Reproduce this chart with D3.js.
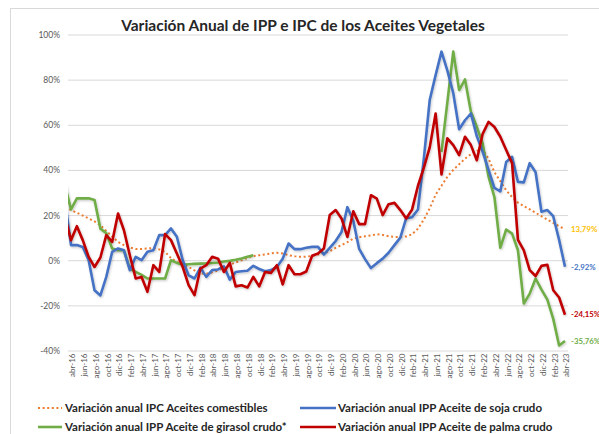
<!DOCTYPE html>
<html>
<head>
<meta charset="utf-8">
<script src="https://cdn.jsdelivr.net/npm/d3@7"></script>
<style>
body { margin: 0; background: #fff; }
svg { display: block; }
.grid line { stroke: #d9d9d9; stroke-width: 1; }
.ylab text { font-family: "Lato", "Liberation Sans", sans-serif; font-size: 8.5px; fill: #595959; }
.xlab text { font-family: "Lato", "Liberation Sans", sans-serif; font-size: 8px; fill: #595959; }
.txtTitle { font-family: "Lato", sans-serif; font-weight: bold; font-size: 15.5px; fill: #262626; }
.txtLegend { font-family: "Lato", sans-serif; font-weight: bold; font-size: 11.5px; fill: #262626; }
.txtEnd { font-family: "Lato", sans-serif; font-weight: bold; font-size: 7.8px; }
</style>
</head>
<body>
<div id="chart"></div>
<script>
// categorias: mar-16 .. abr-23 (mar-16 queda casi oculto en el borde del grafico)
var mesesAbr = ["ene","feb","mar","abr","may","jun","jul","ago","sep","oct","nov","dic"];
var meses = [];
for (var a = 16; a <= 23; a++) {
    for (var m = 0; m < 12; m++) {
        if (a == 16 && m < 2) continue;
        if (a == 23 && m > 3) continue;
        meses.push(mesesAbr[m] + "-" + a);
    }
}

// etiquetas del eje x (cada 2 meses desde abr-16)
var etiquetasX = meses.filter(function(d, i) { return i % 2 == 1; });
var ticksY = [-40, -20, 0, 20, 40, 60, 80, 100];

// Variacion anual IPC Aceites comestibles
var ipc = [23.5,
 22.2, 21, 19.8, 18.5, 17.2, 15.5, 13, 10.5, 8.1, 6.7, 5.7, 5, 5, 5.2, 5.4, 4.8, 3.7, 0.9, -0.7, -2,
 -3, -4.5, -5.9, -6, -5.4, -4.5, -3.3, -2, -1, 0, 1, 1.8, 2.2, 2.6, 3, 3.3, 3, 2.2, 1.8, 1.5,
 1.6, 1.9, 2.5, 3, 4, 5.5, 6.7, 8, 9.5, 10.2, 10.6, 11, 11.5, 11.2, 10.6, 10.3, 10.3, 10.5, 11.5, 14,
 18, 23, 29, 33, 37, 40, 42.5, 45, 47, 48.5, 49, 45, 39, 35, 31, 28, 25.5, 24, 22.5, 21,
 19.5, 18, 16.5, 15, 13.79];

// Variacion anual IPP Aceite de soja crudo
var soja = [26,
 6.7, 6.7, 5.9, 0, -13.3, -15.6, -7.4, 3.7, 5.2, 4.4, -4.4, 1.5, 0, 3.7, 4.4, 11.1, 11.1, 14.1, 10.4, 0,
 -6.7, -8.1, -3.3, -7.4, -4.4, -4.1, -2.7, -8.6, -5.2, -4.9, -4.7, -2.5, -3.9, -4.9, -4.4, -3, 0.7, 7.4, 4.9, 4.9,
 5.5, 5.9, 5.9, 2.5, 5.5, 8.5, 12.5, 23.5, 17.5, 5, 0.5, -3.5, -1.3, 0.7, 3.3, 6.7, 10, 18.6, 19, 22.5,
 45, 71, 82, 92.4, 84, 74, 58, 62, 65, 55, 48, 40, 32, 30.5, 43.5, 45.8, 34.7, 34.5, 43, 39,
 21.5, 22.2, 19.5, 9, -2.92];

// Variacion anual IPP Aceite de girasol crudo*
var girasol = [33,
 22.5, 27.4, 27.4, 27.4, 26.7, 14, 12, 5.2, 4.4, 4.4, -3.7, -5.2, -6.5, -8.1, -8.1, -8.1, -8.1, 0, -1.2, -2,
 -1.8, -1.6, -1.5, -1.4, -1.2, -1, -0.6, -0.3, 0.2, 0.8, 1.5, 2.2, null, null, null, null, null, null, null, null,
 null, null, null, null, null, null, null, null, null, null, null, null, null, null, null, null, null, null, null, null,
 null, null, null, 48, 70, 92.4, 75.4, 80.1, 65.8, 59.1, 51.7, 37, 28, 5.5, 13.6, 11.8, 4.4, -19.2, -14.8, -8.1,
 -13, -17.5, -26, -37.8, -35.76];

// Variacion anual IPP Aceite de palma crudo
var palma = [19,
 8.9, 15.1, 8.9, 1.5, -3, 1.2, 11.1, 8.1, 20.7, 13.3, 2.2, -8.1, -7.4, -14, -2.2, -5.2, 11.6, 8.9, 3, -3,
 -11, -15.5, -3.7, -2.2, 1.5, 0.7, -5.2, -1.2, -11.6, -11.1, -12.1, -7.4, -11.6, -5.2, -5.6, -2.2, -10.7, -2.2, -6.2, -6.2,
 -5, 2, 3, 5.2, 20, 22.2, 18.5, 10.3, 21.7, 16, 16, 28.8, 27.3, 20, 24.8, 25.4, 22.2, 18.5, 22.5, 33,
 41, 50, 65, 38, 54, 51, 46.6, 54.7, 51, 44.3, 56, 61.3, 59, 54.7, 48.8, 43, 9, 4.4, -4.4, -7,
 -2.5, -2, -13.3, -16.5, -24.15];

var series = [
    {nombre: "Variación anual IPC Aceites comestibles", valores: ipc, color: "#ED7D31", colorTxt: "#FFC000", fin: "13,79%", punteado: true},
    {nombre: "Variación anual IPP Aceite de soja crudo", valores: soja, color: "#4472C4", colorTxt: "#4472C4", fin: "-2,92%"},
    {nombre: "Variación anual IPP Aceite de girasol crudo*", valores: girasol, color: "#70AD47", colorTxt: "#70AD47", fin: "-35,76%"},
    {nombre: "Variación anual IPP Aceite de palma crudo", valores: palma, color: "#C00000", colorTxt: "#C00000", fin: "-24,15%"}
];

var width = 599;
var height = 434;
var plotL = 68, plotR = 568, plotT = 34.5, plotB = 350.5;

var svg = d3.select("#chart")
.append("svg")
.attr("width", width)
.attr("height", height);

var defs = svg.append("defs");
defs.append("clipPath")
.attr("id", "clip-plot")
.append("rect")
.attr("x", plotL)
.attr("y", 0)
.attr("width", plotR - plotL)
.attr("height", height);

var sombra = defs.append("filter")
.attr("id", "sombra")
.attr("x", "-5%").attr("y", "-5%")
.attr("width", "110%").attr("height", "110%");
sombra.append("feDropShadow")
.attr("dx", 0.8)
.attr("dy", 1.2)
.attr("stdDeviation", 0.9)
.attr("flood-color", "#000")
.attr("flood-opacity", 0.22);

// marco
svg.append("rect")
.attr("x", 10.5)
.attr("y", 8.5)
.attr("width", 590)
.attr("height", 440)
.attr("fill", "none")
.attr("stroke", "#d9d9d9");

svg.append("text")
.attr("class", "txtTitle")
.attr("x", 303)
.attr("y", 31)
.attr("text-anchor", "middle")
.text("Variación Anual de IPP e IPC de los Aceites Vegetales");

var x = d3.scalePoint()
.domain(meses)
.range([65.12, 565]);

var y = d3.scaleLinear()
.domain([-40, 100])
.range([plotB, plotT]);

// rejilla + etiquetas y
var ejeY = svg.append("g")
.attr("class", "grid ylab")
.attr("transform", "translate(" + plotL + ",0)")
.call(d3.axisLeft(y)
    .tickValues(ticksY)
    .tickFormat(function(d) { return d + "%"; })
    .tickSize(-(plotR - plotL))
    .tickPadding(8));
ejeY.select(".domain").remove();
ejeY.selectAll("text").attr("dy", "0.35em");

// etiquetas x giradas
var ejeX = svg.append("g")
.attr("class", "xlab")
.attr("transform", "translate(0," + plotB + ")")
.call(d3.axisBottom(x).tickValues(etiquetasX).tickSize(0));
ejeX.select(".domain").remove();
ejeX.selectAll("text")
.attr("x", -3)
.attr("y", 1)
.attr("dy", "0.35em")
.attr("transform", "rotate(-90)")
.style("text-anchor", "end");

var linea = d3.line()
.defined(function(d) { return d != null; })
.x(function(d, i) { return x(meses[i]); })
.y(function(d) { return y(d); });

var lineas = svg.append("g")
.attr("clip-path", "url(#clip-plot)");

// dibujar primero IPC, luego girasol, soja y palma
[0, 2, 1, 3].forEach(function(k) {
    var s = series[k];
    var p = lineas.append("path")
    .attr("d", linea(s.valores))
    .attr("fill", "none")
    .attr("stroke", s.color)
    .attr("stroke-linejoin", "round");
    if (s.punteado) {
        p.attr("stroke-width", 2).attr("stroke-dasharray", "2,2.6");
    } else {
        p.attr("stroke-width", 2.6).attr("filter", "url(#sombra)");
    }
});

// valores finales
var ultimo = meses[meses.length - 1];
series.forEach(function(s) {
    var v = s.valores[s.valores.length - 1];
    svg.append("text")
    .attr("class", "txtEnd")
    .attr("x", x(ultimo) + 6)
    .attr("y", y(v))
    .attr("dy", "0.35em")
    .attr("fill", s.colorTxt)
    .text(s.fin);
});

// leyenda
var posLeyenda = [[38, 408], [300, 408], [38, 427], [300, 427]];
[0, 1, 2, 3].forEach(function(k, j) {
    var s = series[k];
    var g = svg.append("g")
    .attr("transform", "translate(" + posLeyenda[j][0] + "," + posLeyenda[j][1] + ")");
    var ln = g.append("line")
    .attr("x1", 0).attr("x2", j % 2 == 0 ? 24 : 36)
    .attr("y1", 0).attr("y2", 0)
    .attr("stroke", s.color);
    if (s.punteado) {
        ln.attr("stroke-width", 2).attr("stroke-dasharray", "2,2.6");
    } else {
        ln.attr("stroke-width", 2.6);
    }
    g.append("text")
    .attr("class", "txtLegend")
    .attr("x", j % 2 == 0 ? 27 : 38)
    .attr("y", 0)
    .attr("dy", "0.35em")
    .text(s.nombre);
});
</script>
</body>
</html>
